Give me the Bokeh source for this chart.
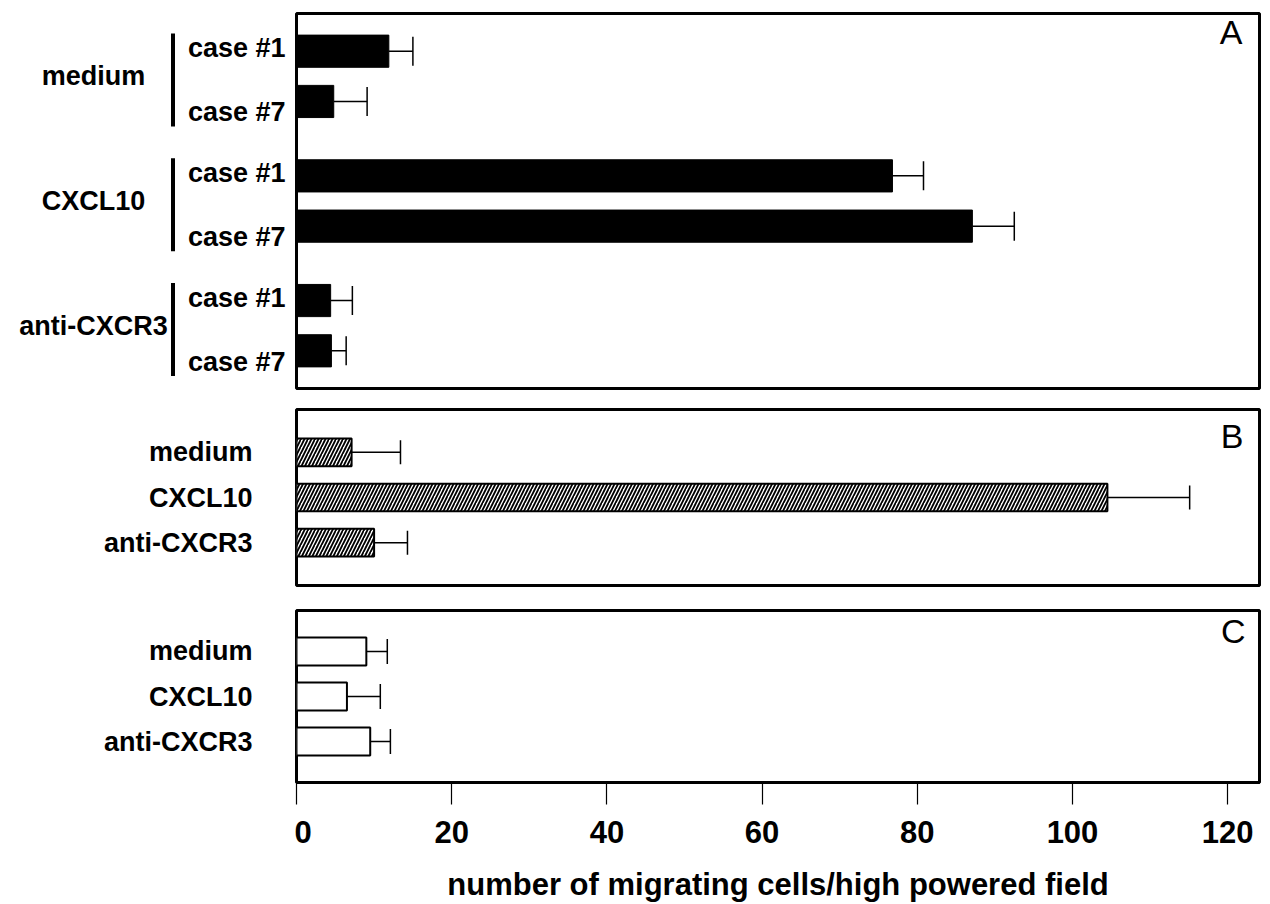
from bokeh.plotting import figure
from bokeh.layouts import row, column
from bokeh.models import (FactorRange, Range1d, Whisker, TeeHead, ColumnDataSource,
                          Label, FixedTicker)
from bokeh.embed import file_html
from bokeh.resources import INLINE
from bokeh.core.properties import value

# ---------------- data ----------------
groups = ["medium", "CXCL10", "anti-CXCR3"]
cases = ["case #1", "case #7"]
a_mean = [11.9, 4.8, 76.8, 87.1, 4.4, 4.5]
a_err = [3.1, 4.3, 4.0, 5.4, 2.8, 1.9]
b_mean = [7.1, 104.5, 10.0]
b_err = [6.3, 10.6, 4.3]
c_mean = [9.0, 6.5, 9.5]
c_err = [2.7, 4.3, 2.6]
x_ticks = [0, 20, 40, 60, 80, 100, 120]
x_label = "number of migrating cells/high powered field"
panel_letters = ["A", "B", "C"]

FONT = "Liberation Sans"
LABEL_W = 294
BAR_W = 971
X_END = 124.1


def label_fig(y_range, height, top, bottom):
    p = figure(width=LABEL_W, height=height, x_range=Range1d(0, LABEL_W), y_range=y_range,
               output_backend="svg", toolbar_location=None,
               min_border_left=0, min_border_right=0, min_border_top=top, min_border_bottom=bottom)
    p.axis.visible = False
    p.grid.visible = False
    p.outline_line_color = None
    return p


def bar_fig(y_range, height, top, bottom, with_axis=False):
    p = figure(width=BAR_W, height=height, x_range=Range1d(0, X_END), y_range=y_range,
               output_backend="svg", toolbar_location=None,
               min_border_left=2, min_border_right=6, min_border_top=top, min_border_bottom=bottom)
    p.grid.visible = False
    p.outline_line_color = "black"
    p.outline_line_width = 3
    p.outline_line_alpha = 1
    p.yaxis.visible = False
    if not with_axis:
        p.xaxis.visible = False
    else:
        ax = p.xaxis[0]
        ax.ticker = FixedTicker(ticks=x_ticks)
        ax.major_label_text_font = FONT
        ax.major_label_text_font_style = "bold"
        ax.major_label_text_font_size = "31px"
        ax.major_label_text_color = "black"
        ax.major_tick_in = 0
        ax.major_tick_out = 22
        ax.major_tick_line_width = 1.2
        ax.major_tick_line_color = "black"
        ax.minor_tick_in = 0
        ax.minor_tick_out = 0
        ax.axis_line_color = "black"
        ax.axis_line_width = 3
        ax.major_label_standoff = 16
        ax.axis_label = x_label
        ax.axis_label_text_font = FONT
        ax.axis_label_text_font_style = "bold"
        ax.axis_label_text_font_size = "31px"
        ax.axis_label_text_color = "black"
        ax.axis_label_standoff = 21
    return p


def add_letter(p, letter, x, y):
    p.add_layout(Label(x=x, y=y, x_units="screen", y_units="screen", text=letter,
                       text_font=FONT, text_font_size="34px", text_align="right",
                       text_baseline="alphabetic", text_color="black"))


def add_bars(p, src, height, tee, **style):
    p.hbar(y="y", left=0, right="mean", height=height, source=src, **style)
    p.add_layout(Whisker(base="y", lower="mean", upper="upper", dimension="width", source=src,
                         lower_head=None,
                         upper_head=TeeHead(size=tee, line_width=1.5, line_color="black"),
                         line_width=1.5, line_color="black", level="glyph"))


# ---------------- panel A ----------------
a_factors = [(g, c) for g in groups for c in cases]
yA = FactorRange(factors=a_factors[::-1], group_padding=0.48, range_padding=0.25,
                 range_padding_units="absolute")
srcA = ColumnDataSource(dict(y=a_factors, mean=a_mean,
                             upper=[m + e for m, e in zip(a_mean, a_err)]))
HA, TA, BA = 398, 13, 10
pA = bar_fig(yA, HA, TA, BA)
add_bars(pA, srcA, 0.64, 29, fill_color="black", line_color="black", line_width=1)
add_letter(pA, panel_letters[0], 946, 357)

lA = label_fig(yA, HA, TA, BA)
for c, off in zip(cases, [-3, 11]):
    lA.text(x=[285] * len(groups), y=[(g, c) for g in groups], text=[c] * len(groups),
            text_font=value(FONT), text_font_style="bold", text_font_size="27px",
            text_align="right", text_baseline="middle", text_color="black", y_offset=off)
lA.text(x=[93] * len(groups), y=[(g, cases[0], -0.5) for g in groups], text=groups,
        text_font=value(FONT), text_font_style="bold", text_font_size="27px",
        text_align="center", text_baseline="middle", text_color="black")
lA.segment(x0=[172.5] * len(groups), x1=[172.5] * len(groups),
           y0=[(g, cases[-1], -0.5) for g in groups], y1=[(g, cases[0], 0.35) for g in groups],
           line_width=4, line_color="black", line_cap="butt")

# ---------------- panel B ----------------
yB = FactorRange(factors=groups[::-1], range_padding=0.45, range_padding_units="absolute")
srcB = ColumnDataSource(dict(y=groups, mean=b_mean, upper=[m + e for m, e in zip(b_mean, b_err)]))
HB, TB, BB = 200, 11, 13
pB = bar_fig(yB, HB, TB, BB)
add_bars(pB, srcB, 0.61, 24, fill_color="white", line_color="black", line_width=2,
         hatch_pattern="/", hatch_color="black", hatch_weight=1.8, hatch_scale=7)
add_letter(pB, panel_letters[1], 947, 150)
lB = label_fig(yB, HB, TB, BB)
lB.text(x=[252] * len(groups), y=groups, text=groups,
        text_font=value(FONT), text_font_style="bold", text_font_size="27px",
        text_align="right", text_baseline="middle", text_color="black")

# ---------------- panel C ----------------
yC = FactorRange(factors=groups[::-1], range_padding=0.41, range_padding_units="absolute")
srcC = ColumnDataSource(dict(y=groups, mean=c_mean, upper=[m + e for m, e in zip(c_mean, c_err)]))
HC, TC, BC = 306, 12, 120
pC = bar_fig(yC, HC, TC, BC, with_axis=True)
add_bars(pC, srcC, 0.62, 25, fill_color="white", line_color="black", line_width=2)
add_letter(pC, panel_letters[2], 949, 152)
lC = label_fig(yC, HC, TC, BC)
lC.text(x=[252] * len(groups), y=groups, text=groups,
        text_font=value(FONT), text_font_style="bold", text_font_size="27px",
        text_align="right", text_baseline="middle", text_color="black")

layout = column(row(lA, pA), row(lB, pB), row(lC, pC))

with open("out.html", "w") as f:
    f.write(file_html(layout, INLINE))
